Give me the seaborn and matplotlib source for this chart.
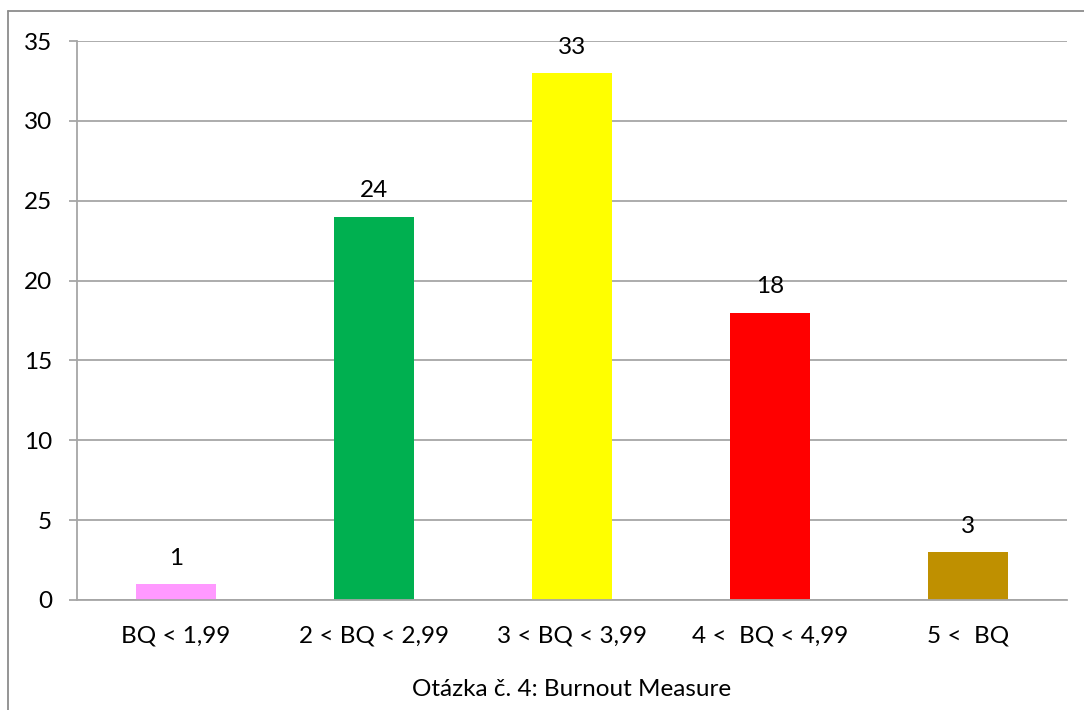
import matplotlib
matplotlib.use("Agg")
import matplotlib.pyplot as plt
import seaborn as sns
import pandas as pd

categories = ["BQ < 1,99", "2 < BQ < 2,99", "3 < BQ < 3,99", "4 <  BQ < 4,99", "5 <  BQ"]
counts = [1, 24, 33, 18, 3]
bar_colors = ["#FF99FF", "#00B050", "#FFFF00", "#FF0000", "#BF9000"]
y_ticks = [0, 5, 10, 15, 20, 25, 30, 35]
title = "Otázka č. 4: Burnout Measure"

sns.set_theme(style="white")
plt.rcParams["font.family"] = ["Lato", "DejaVu Sans"]

df = pd.DataFrame({"category": categories, "count": counts})

W, H = 1084, 710
fig = plt.figure(figsize=(W / 100, H / 100), dpi=100)
ax = fig.add_axes([77 / W, 1 - 600 / H, (1067 - 77) / W, (600 - 41) / H])

sns.barplot(data=df, x="category", y="count", hue="category",
            palette=bar_colors, width=0.40, legend=False, ax=ax,
            saturation=1, edgecolor="none")

fs = 17.5
grid_c = "#A6A6A6"
ax.set_ylim(0, 35)
ax.set_xlim(-0.5, 4.5)
ax.set_yticks(y_ticks)
ax.yaxis.grid(True, color=grid_c, linewidth=1.3)
ax.set_axisbelow(True)
for s in ["top", "right"]:
    ax.spines[s].set_visible(False)
for s in ["left", "bottom"]:
    ax.spines[s].set_color(grid_c)
    ax.spines[s].set_linewidth(1.3)
ax.tick_params(axis="y", which="major", left=True, length=5.8, width=1.3,
               color=grid_c, labelsize=fs, pad=12, labelcolor="black")
ax.tick_params(axis="x", bottom=False, labelsize=fs, pad=12, labelcolor="black")
ax.set_xlabel(title, fontsize=fs, labelpad=24, color="black")
ax.set_ylabel("")

for i, v in enumerate(counts):
    ax.annotate(str(v), (i, v), xytext=(0, 11), textcoords="offset points",
                ha="center", va="bottom", fontsize=fs, color="black")

# chart-area frame
fig.add_artist(plt.Line2D([8 / W, 8 / W], [0, 1 - 11 / H], transform=fig.transFigure,
                          color="#8C8C8C", linewidth=1.3))
fig.add_artist(plt.Line2D([8 / W, 1], [1 - 11 / H, 1 - 11 / H], transform=fig.transFigure,
                          color="#8C8C8C", linewidth=1.3))

fig.savefig("out.png", dpi=100)
